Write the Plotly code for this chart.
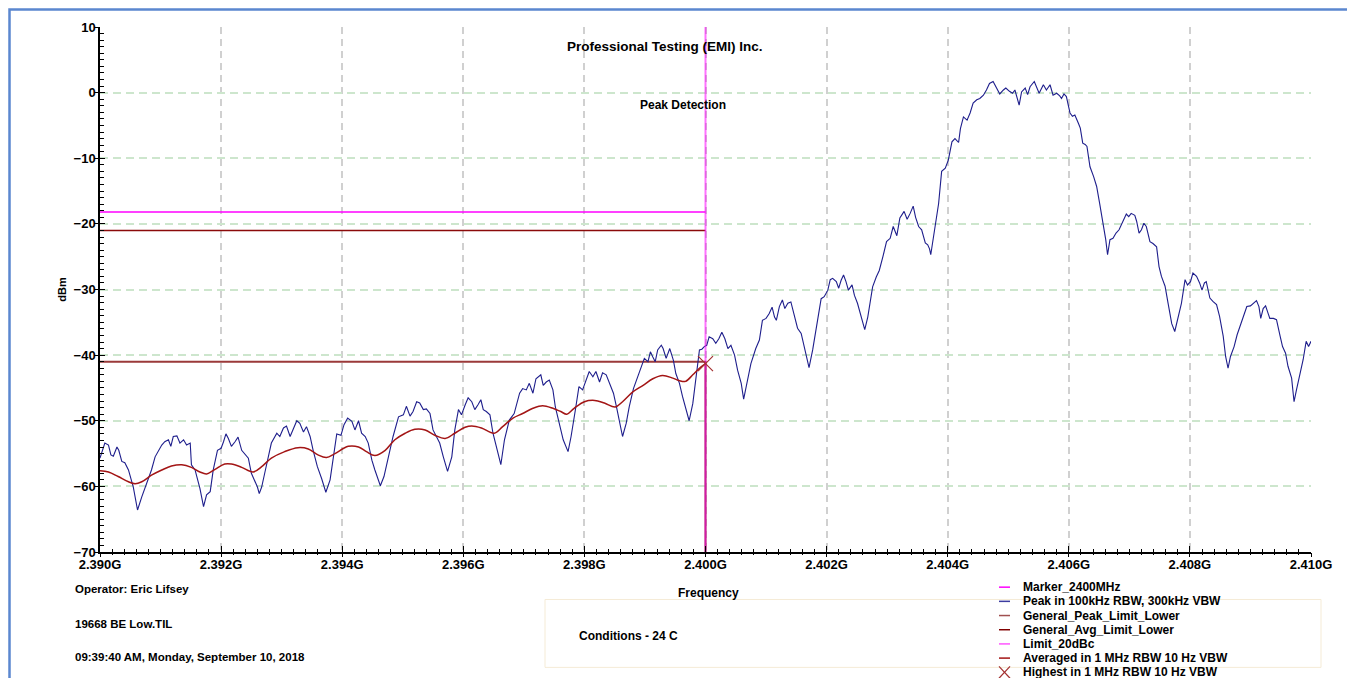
import plotly.graph_objects as go

# ---------------- data ----------------
F_START_MHZ = 2390.0

peak_offset_mhz = [
    0.00, 0.08, 0.14, 0.18, 0.22, 0.28, 0.31, 0.36, 0.41, 0.47, 0.55, 0.62, 0.69, 0.77, 0.85, 0.91, 0.96,
    1.02, 1.07, 1.13, 1.17, 1.21, 1.27, 1.32, 1.38, 1.43, 1.49, 1.51, 1.57, 1.65, 1.71, 1.76, 1.82, 1.87, 1.94,
    2.00, 2.04, 2.08, 2.12, 2.17, 2.23, 2.28, 2.34, 2.39, 2.45, 2.50, 2.56, 2.60, 2.63, 2.67, 2.72, 2.78, 2.83, 2.92, 2.97,
    3.03, 3.08, 3.14, 3.19, 3.25, 3.30, 3.36, 3.41, 3.47, 3.52, 3.59, 3.66, 3.73, 3.80, 3.85, 3.91, 3.98,
    4.03, 4.09, 4.16, 4.21, 4.27, 4.32, 4.38, 4.43, 4.49, 4.54, 4.60, 4.63, 4.69, 4.76, 4.84, 4.93,
    5.01, 5.06, 5.12, 5.17, 5.23, 5.28, 5.34, 5.39, 5.45, 5.50, 5.56, 5.61, 5.67, 5.74, 5.81, 5.86, 5.92, 5.97,
    6.03, 6.08, 6.14, 6.19, 6.24, 6.29, 6.33, 6.38, 6.44, 6.49, 6.58, 6.62, 6.68, 6.76, 6.84, 6.93, 6.98,
    7.04, 7.09, 7.15, 7.20, 7.25, 7.28, 7.32, 7.37, 7.42, 7.48, 7.52, 7.59, 7.65, 7.73, 7.78, 7.85, 7.91, 7.97,
    8.03, 8.08, 8.14, 8.19, 8.25, 8.30, 8.36, 8.42, 8.48, 8.53, 8.59, 8.63, 8.69, 8.74, 8.81, 8.88, 8.95, 8.99,
    9.05, 9.09, 9.13, 9.17, 9.21, 9.27, 9.30, 9.35, 9.41, 9.47, 9.51, 9.57, 9.62, 9.68, 9.73, 9.79, 9.84, 9.90, 9.94, 9.98,
    10.02, 10.06, 10.12, 10.17, 10.22, 10.27, 10.32, 10.37, 10.42, 10.48, 10.53, 10.59, 10.63, 10.68, 10.75, 10.83, 10.89, 10.94,
    11.00, 11.05, 11.10, 11.14, 11.17, 11.22, 11.27, 11.31, 11.36, 11.41, 11.47, 11.52, 11.58, 11.63, 11.67, 11.71, 11.77, 11.82, 11.88, 11.91, 11.96,
    12.02, 12.06, 12.10, 12.16, 12.20, 12.24, 12.28, 12.32, 12.36, 12.42, 12.46, 12.51, 12.55, 12.60, 12.63, 12.68, 12.72, 12.76, 12.82, 12.87, 12.93, 12.99,
    13.05, 13.10, 13.16, 13.21, 13.28, 13.33, 13.38, 13.43, 13.47, 13.52, 13.57, 13.63, 13.67, 13.70, 13.72, 13.79, 13.85, 13.90, 13.96,
    14.01, 14.07, 14.12, 14.18, 14.21, 14.26, 14.32, 14.37, 14.42, 14.48, 14.53, 14.59, 14.64, 14.69, 14.75, 14.81, 14.86, 14.92, 14.96,
    15.02, 15.07, 15.11, 15.18, 15.22, 15.28, 15.32, 15.36, 15.43, 15.47, 15.51, 15.58, 15.63, 15.69, 15.74, 15.80, 15.85, 15.88, 15.92, 15.96,
    16.02, 16.06, 16.10, 16.16, 16.19, 16.23, 16.27, 16.30, 16.35, 16.41, 16.46, 16.51, 16.57, 16.61, 16.64, 16.68, 16.73, 16.78, 16.83, 16.90, 16.95, 16.99,
    17.03, 17.09, 17.12, 17.16, 17.20, 17.24, 17.28, 17.34, 17.39, 17.45, 17.49, 17.53, 17.59, 17.64, 17.70, 17.75, 17.81, 17.86, 17.92, 17.96,
    18.01, 18.05, 18.11, 18.16, 18.20, 18.24, 18.27, 18.33, 18.38, 18.44, 18.49, 18.55, 18.59, 18.63, 18.67, 18.73, 18.78, 18.83, 18.89, 18.94,
    19.00, 19.05, 19.10, 19.14, 19.17, 19.21, 19.25, 19.29, 19.32, 19.38, 19.43, 19.49, 19.53, 19.58, 19.62, 19.68, 19.72, 19.76, 19.81, 19.87, 19.92, 19.96, 20.00,
]
peak_dbm = [
    -55.7, -53.4, -53.7, -55.2, -55.4, -54.0, -54.5, -56.2, -56.4, -57.5, -60.1, -63.6, -61.6, -59.5, -57.5, -55.5, -54.7,
    -53.7, -53.2, -52.9, -53.9, -52.4, -52.3, -53.4, -52.9, -53.7, -53.4, -56.7, -57.5, -60.3, -63.1, -61.3, -60.8, -57.5, -54.5,
    -54.2, -53.2, -52.0, -52.7, -53.9, -53.2, -52.5, -54.5, -55.0, -55.7, -58.0, -59.3, -60.1, -61.1, -60.1, -58.0, -55.5, -53.4, -51.9, -52.4,
    -51.1, -50.8, -52.4, -51.4, -50.0, -50.4, -51.7, -50.9, -52.4, -54.5, -57.0, -58.8, -60.9, -59.0, -55.5, -52.0, -52.2,
    -50.6, -49.6, -50.1, -51.4, -50.0, -51.9, -52.4, -53.4, -56.0, -57.5, -59.3, -59.9, -58.5, -55.5, -52.4, -49.4,
    -49.1, -47.8, -49.3, -48.6, -47.1, -47.3, -48.3, -48.2, -48.9, -51.4, -52.4, -53.4, -55.5, -57.7, -55.5, -51.4, -48.3, -49.1,
    -47.6, -46.5, -47.1, -48.3, -47.6, -46.8, -48.3, -48.6, -49.1, -51.9, -55.2, -56.7, -52.9, -49.9, -48.9, -45.8, -45.1,
    -45.3, -44.3, -45.8, -43.6, -43.2, -43.0, -44.6, -44.1, -43.8, -45.3, -47.9, -50.4, -52.9, -54.7, -52.4, -48.4, -44.8, -45.3,
    -43.6, -42.5, -43.3, -42.5, -44.1, -42.7, -43.0, -44.3, -45.8, -47.9, -50.4, -52.4, -50.4, -47.9, -45.1, -43.3, -41.3, -40.5,
    -41.0, -39.5, -40.3, -41.0, -39.2, -38.5, -39.0, -40.5, -39.0, -40.8, -42.8, -44.3, -46.3, -48.4, -50.0, -47.4, -43.8, -39.2, -39.1, -38.7,
    -38.5, -37.2, -37.5, -38.2, -37.5, -36.5, -37.5, -39.0, -38.5, -40.0, -42.3, -44.3, -46.7, -44.3, -41.3, -39.0, -37.7, -34.7,
    -34.4, -33.7, -32.7, -34.2, -34.7, -32.6, -31.6, -32.9, -32.1, -31.9, -34.2, -35.9, -36.7, -38.7, -40.0, -41.9, -39.2, -36.2, -33.1, -31.4, -31.1,
    -30.1, -28.5, -28.3, -28.8, -29.8, -28.6, -27.8, -28.8, -30.1, -29.3, -30.9, -32.1, -33.4, -35.4, -36.1, -34.2, -31.9, -29.6, -28.1, -27.1, -25.0, -22.7,
    -22.2, -20.4, -21.8, -19.1, -18.1, -19.3, -18.4, -17.3, -19.0, -20.4, -20.9, -22.9, -23.2, -23.8, -24.7, -20.5, -16.9, -12.0, -11.5,
    -10.3, -7.5, -7.0, -7.6, -5.5, -3.7, -4.2, -3.1, -1.6, -1.1, -0.9, -0.4, 0.4, 1.4, 1.7, 0.7, -0.2, 0.4, 0.7,
    0.2, -0.1, 0.4, -1.9, 0.1, 0.7, -0.3, 0.9, 1.7, 0.7, -0.1, 1.2, 0.4, 1.2, -0.4, -0.1, -0.5, -0.9, -0.2, -0.6,
    -3.1, -3.6, -3.4, -4.7, -5.4, -7.7, -7.9, -8.2, -11.3, -12.8, -14.3, -16.9, -19.9, -22.4, -24.7, -22.4, -22.2, -21.4, -20.9, -19.4, -18.5, -18.9,
    -18.4, -18.7, -19.6, -21.4, -20.9, -19.9, -20.4, -22.7, -23.0, -23.5, -26.5, -28.0, -29.5, -32.1, -35.2, -36.4, -34.2, -32.1, -28.5, -29.3,
    -28.8, -27.5, -28.0, -29.0, -30.1, -29.0, -28.8, -31.3, -31.8, -32.3, -34.1, -37.1, -40.2, -42.0, -40.2, -38.7, -36.9, -35.6, -33.9, -32.6,
    -32.5, -32.1, -31.7, -32.6, -34.4, -32.9, -32.5, -33.6, -34.4, -34.4, -34.6, -37.1, -38.7, -39.7, -41.7, -43.5, -47.1, -45.3, -43.2, -40.7, -37.9, -38.7, -37.9,
]

avg_offset_mhz = [
    0.00, 0.14, 0.30, 0.47, 0.58, 0.69, 0.85, 1.02, 1.18, 1.35, 1.51, 1.65, 1.76, 1.90, 2.06, 2.17, 2.34, 2.53,
    2.67, 2.83, 3.05, 3.27, 3.44, 3.60, 3.74, 3.88, 4.10, 4.27, 4.40, 4.54, 4.71, 4.87, 5.04, 5.20, 5.37, 5.53,
    5.70, 5.86, 6.03, 6.14, 6.30, 6.51, 6.65, 6.82, 6.98, 7.15, 7.31, 7.48, 7.61, 7.71, 7.83, 8.00, 8.17, 8.33,
    8.51, 8.63, 8.80, 8.97, 9.13, 9.29, 9.46, 9.57, 9.67, 9.79, 9.90, 10.00,
]
avg_dbm = [
    -57.6, -57.8, -58.5, -59.3, -59.6, -59.3, -58.3, -57.5, -56.9, -56.7, -57.1, -57.8, -58.1, -57.4, -56.6, -56.6, -57.1, -57.8,
    -57.0, -55.7, -54.7, -54.1, -54.3, -55.2, -55.6, -55.0, -53.9, -54.0, -54.7, -55.3, -54.5, -52.9, -51.9, -51.3, -51.4, -52.2,
    -52.7, -51.9, -51.0, -50.8, -51.1, -51.9, -50.9, -49.6, -48.9, -48.1, -47.7, -48.1, -48.6, -49.0, -48.1, -47.1, -46.9, -47.3,
    -47.9, -47.1, -45.6, -44.6, -43.6, -43.1, -43.5, -43.9, -44.0, -43.0, -42.0, -41.3,
]

limit_start_mhz = 2390.0
limit_stop_mhz = 2400.0
limit_20dbc_dbm = -18.2
general_peak_limit_dbm = -21.0
general_avg_limit_dbm = -41.0
marker_mhz = 2400.0
highest_mhz = [2400.0]
highest_dbm = [-41.3]

x_tick_vals = [2390, 2392, 2394, 2396, 2398, 2400, 2402, 2404, 2406, 2408, 2410]
x_tick_text = ["2.390G", "2.392G", "2.394G", "2.396G", "2.398G", "2.400G",
               "2.402G", "2.404G", "2.406G", "2.408G", "2.410G"]
y_min, y_max = -70, 10

legend_names = ["Marker_2400MHz", "Peak in 100kHz RBW, 300kHz VBW", "General_Peak_Limit_Lower",
                "General_Avg_Limit_Lower", "Limit_20dBc", "Averaged in 1 MHz RBW 10 Hz VBW",
                "Highest in 1 MHz RBW 10 Hz VBW"]

# ---------------- geometry helpers ----------------
# page has an 8px body margin; screen coordinates below are converted to figure coordinates
OFF = 8
W, H = 1347, 670
ML, MR, MT, MB = 92, 44, 19, 125.5
PW, PH = W - ML - MR, H - MT - MB


def pxx(x):
    return (x - OFF - ML) / PW


def pxy(y):
    return (H - MB - (y - OFF)) / PH


peak_x = [F_START_MHZ + v for v in peak_offset_mhz]
avg_x = [F_START_MHZ + v for v in avg_offset_mhz]

C_MARKER = "#FF00FF"
C_PEAK = "#1E1E8C"
C_GPEAK = "#8B0A0A"
C_GAVG = "#9B3A3A"
C_20DBC = "#FF00FF"
C_AVG = "#A31515"
C_HIGH = "#A33030"

FONT2 = "Liberation Sans, Arial, sans-serif"

fig = go.Figure()

fig.add_trace(go.Scatter(x=[limit_start_mhz, limit_stop_mhz], y=[limit_20dbc_dbm] * 2, mode="lines",
                         line=dict(color=C_20DBC, width=1.5), name=legend_names[4]))
fig.add_trace(go.Scatter(x=[limit_start_mhz, limit_stop_mhz], y=[general_peak_limit_dbm] * 2, mode="lines",
                         line=dict(color=C_GPEAK, width=1.5), name=legend_names[2]))
fig.add_trace(go.Scatter(x=[limit_start_mhz, limit_stop_mhz, limit_stop_mhz],
                         y=[general_avg_limit_dbm, general_avg_limit_dbm, y_min], mode="lines",
                         line=dict(color=C_GAVG, width=2), name=legend_names[3]))
fig.add_trace(go.Scatter(x=peak_x, y=peak_dbm, mode="lines",
                         line=dict(color=C_PEAK, width=1.1), name=legend_names[1]))
fig.add_trace(go.Scatter(x=avg_x, y=avg_dbm, mode="lines", line_shape="spline",
                         line=dict(color=C_AVG, width=1.5), name=legend_names[5]))
fig.add_trace(go.Scatter(x=[marker_mhz, marker_mhz], y=[y_min, y_max], mode="lines", opacity=0.55,
                         line=dict(color=C_MARKER, width=2), name=legend_names[0]))
fig.add_trace(go.Scatter(x=highest_mhz, y=highest_dbm, mode="markers",
                         marker=dict(symbol="x-thin-open", size=15, color=C_HIGH,
                                     line=dict(color=C_HIGH, width=1.2)),
                         name=legend_names[6]))
# helper trace so the crossing-tick overlay axes are drawn
fig.add_trace(go.Scatter(x=[None], y=[None], xaxis="x2", yaxis="y2", showlegend=False, hoverinfo="skip"))

tickfont = dict(family=FONT2, size=13, color="black", weight="bold")

fig.update_layout(
    width=W, height=H,
    margin=dict(l=ML, r=MR, t=MT, b=MB),
    paper_bgcolor="white", plot_bgcolor="white",
    showlegend=False,
    xaxis=dict(range=[2390, 2410], tickmode="array", tickvals=x_tick_vals, ticktext=x_tick_text,
               ticks="inside", ticklen=6, tickwidth=1, tickcolor="black",
               minor=dict(tickmode="linear", tick0=2390, dtick=0.2, ticks="inside", ticklen=3.5,
                          tickwidth=1, tickcolor="black", showgrid=False),
               showline=True, linecolor="black", linewidth=1.5, zeroline=False,
               showgrid=True, gridcolor="#D0D0D0", gridwidth=1.5, griddash="7px,5px",
               tickfont=tickfont),
    yaxis=dict(range=[y_min, y_max], tickmode="linear", tick0=-70, dtick=10,
               ticks="inside", ticklen=5, tickwidth=1, tickcolor="black",
               minor=dict(tickmode="linear", tick0=-70, dtick=1, ticks="inside", ticklen=4,
                          tickwidth=1, tickcolor="black", showgrid=False),
               showline=True, linecolor="black", linewidth=1.5, zeroline=False,
               showgrid=True, gridcolor="#CDE6CD", gridwidth=1.5, griddash="8px,5px",
               tickfont=tickfont, ticklabelstandoff=0),
    xaxis2=dict(range=[2390, 2410], overlaying="x", anchor="y", side="bottom", tickmode="array",
                tickvals=x_tick_vals, showticklabels=False, ticks="outside", ticklen=4, tickcolor="black",
                minor=dict(tickmode="linear", tick0=2390, dtick=0.2, ticks="outside", ticklen=2,
                           tickcolor="black", showgrid=False),
                showgrid=False, showline=False, zeroline=False),
    yaxis2=dict(range=[y_min, y_max], overlaying="y", anchor="x", side="left", tickmode="linear",
                tick0=-70, dtick=10, showticklabels=False, ticks="outside", ticklen=5, tickcolor="black",
                minor=dict(tickmode="linear", tick0=-70, dtick=1, ticks="outside", ticklen=1,
                           tickcolor="black", showgrid=False),
                showgrid=False, showline=False, zeroline=False),
)

ann = []


def text(x, y, s, size=12, xanchor="center", family=FONT2, bold=True, angle=0):
    ann.append(dict(x=pxx(x), y=pxy(y), xref="paper", yref="paper", text=s, showarrow=False,
                    xanchor=xanchor, yanchor="middle", textangle=angle,
                    font=dict(family=family, size=size, color="black", weight="bold" if bold else "normal")))


text(665, 47, "Professional Testing (EMI) Inc.", size=13.5)
text(683, 105, "Peak Detection", size=12)
text(62, 290, "dBm", size=11, angle=-90)
text(708, 594, "Frequency", size=12)
text(73, 590, "Operator: Eric Lifsey", size=11.5, xanchor="left")
text(73, 625, "19668 BE Low.TIL", size=11.5, xanchor="left")
text(73, 658, "09:39:40 AM, Monday, September 10, 2018", size=11.5, xanchor="left")
text(577, 637, "Conditions - 24 C", size=12, xanchor="left")

shapes = []
# outer blue frame
shapes.append(dict(type="rect", xref="paper", yref="paper", x0=pxx(9.5), x1=pxx(1351), y0=pxy(700), y1=pxy(9.5),
                   line=dict(color="#5B87CF", width=2.5), fillcolor="rgba(0,0,0,0)", layer="above"))
# conditions box
shapes.append(dict(type="rect", xref="paper", yref="paper", x0=pxx(545), x1=pxx(1321), y0=pxy(668), y1=pxy(600),
                   line=dict(color="#F5EBD6", width=1), fillcolor="rgba(0,0,0,0)", layer="below"))

# custom legend
leg_colors = [C_MARKER, "#3C3CA0", "#A05050", "#800000", "#FF55FF", C_AVG, C_HIGH]
row_y0, row_dy = 587.7, 14.2
for i, (nm, col) in enumerate(zip(legend_names, leg_colors)):
    yy = row_y0 + i * row_dy
    if i < 6:
        shapes.append(dict(type="line", xref="paper", yref="paper", x0=pxx(999), x1=pxx(1010),
                           y0=pxy(yy), y1=pxy(yy), line=dict(color=col, width=1.5)))
    else:
        shapes.append(dict(type="line", xref="paper", yref="paper", x0=pxx(999), x1=pxx(1010),
                           y0=pxy(yy - 6), y1=pxy(yy + 6), line=dict(color=col, width=1.2)))
        shapes.append(dict(type="line", xref="paper", yref="paper", x0=pxx(999), x1=pxx(1010),
                           y0=pxy(yy + 6), y1=pxy(yy - 6), line=dict(color=col, width=1.2)))
    text(1021, yy, nm, size=12, xanchor="left")

fig.update_layout(annotations=ann, shapes=shapes)

fig.write_html("out.html")
